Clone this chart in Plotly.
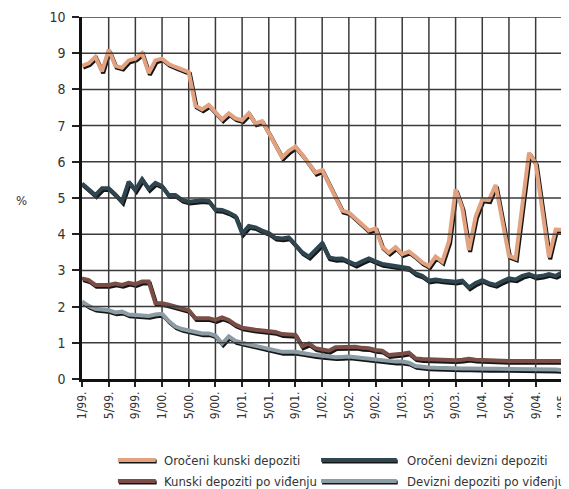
import plotly.graph_objects as go

# monthly data, 1/99 .. 1/05
months = list(range(73))

oroceni_kunski = [
    8.65, 8.72, 8.9, 8.5, 9.1, 8.65, 8.6, 8.8, 8.85, 9.0, 8.45, 8.8,
    8.85, 8.7, 8.62, 8.55, 8.48, 7.55, 7.45, 7.57, 7.35, 7.17, 7.34, 7.2,
    7.15, 7.34, 7.06, 7.12, 6.8, 6.45, 6.12, 6.3, 6.42, 6.2, 5.95, 5.7,
    5.77, 5.4, 5.0, 4.65, 4.6, 4.43, 4.27, 4.1, 4.16, 3.65, 3.49, 3.64,
    3.45, 3.52, 3.38, 3.22, 3.12, 3.38, 3.24, 3.8, 5.24, 4.72, 3.56, 4.48,
    4.96, 4.94, 5.36, 4.4, 3.4, 3.33, 4.8, 6.25, 5.96, 4.66, 3.36, 4.13,
    4.12,
]
oroceni_devizni = [
    5.4, 5.25, 5.08, 5.27, 5.27, 5.1, 4.9, 5.45, 5.22, 5.52, 5.25, 5.42,
    5.33, 5.08, 5.08, 4.95, 4.9, 4.92, 4.94, 4.92, 4.68, 4.67, 4.6, 4.5,
    4.02, 4.23, 4.19, 4.1, 4.03, 3.9, 3.88, 3.91, 3.7, 3.5, 3.38, 3.55,
    3.75, 3.36, 3.32, 3.33, 3.25, 3.16, 3.25, 3.33, 3.25, 3.18, 3.15, 3.12,
    3.1, 3.06, 2.92, 2.85, 2.72, 2.75, 2.72, 2.7, 2.69, 2.72, 2.53, 2.65,
    2.73, 2.65, 2.6, 2.7, 2.78, 2.75, 2.85, 2.9, 2.83, 2.85, 2.9, 2.85,
    2.95,
]
kunski_vidjenje = [
    2.78, 2.73, 2.6, 2.6, 2.6, 2.64, 2.6, 2.66, 2.62, 2.69, 2.69, 2.1,
    2.09, 2.05, 2.0, 1.93, 1.9, 1.68, 1.68, 1.68, 1.63, 1.7, 1.63, 1.5,
    1.42, 1.38, 1.36, 1.34, 1.33, 1.3, 1.24, 1.24, 1.22, 0.9, 0.98, 0.85,
    0.82, 0.78, 0.88, 0.89, 0.89, 0.89, 0.86, 0.85, 0.8, 0.78, 0.66, 0.67,
    0.7, 0.73, 0.57, 0.55, 0.54, 0.54, 0.54, 0.53, 0.52, 0.53, 0.56, 0.53,
    0.52, 0.52, 0.51, 0.5, 0.5, 0.5, 0.5, 0.5, 0.5, 0.5, 0.5, 0.5,
    0.5,
]
devizni_vidjenje = [
    2.14, 2.02, 1.94, 1.92, 1.9, 1.84, 1.86, 1.78, 1.77, 1.76, 1.74, 1.78,
    1.8, 1.6, 1.45, 1.38, 1.33, 1.3, 1.26, 1.26, 1.2, 0.98, 1.18, 1.05,
    1.0, 0.96, 0.92, 0.88, 0.85, 0.8, 0.75, 0.75, 0.75, 0.72, 0.68, 0.66,
    0.64, 0.62, 0.6, 0.61, 0.62, 0.6, 0.58, 0.56, 0.53, 0.5, 0.48, 0.48,
    0.48, 0.45, 0.36, 0.33, 0.32, 0.31, 0.3, 0.29, 0.29, 0.29, 0.29, 0.28,
    0.28, 0.28, 0.28, 0.28, 0.28, 0.27, 0.27, 0.27, 0.27, 0.26, 0.26, 0.26,
    0.25,
]

tick_months = list(range(0, 73, 4))
tick_labels = ["1/99.", "5/99.", "9/99.", "1/00.", "5/00.", "9/00.", "1/01.",
               "5/01.", "9/01.", "1/02.", "5/02.", "9/02.", "1/03.", "5/03.",
               "9/03.", "1/04.", "5/04.", "9/04.", "1/05."]
y_ticks = list(range(0, 11))

names = ["Oročeni kunski depoziti", "Oročeni devizni depoziti",
         "Kunski depoziti po viđenju", "Devizni depoziti po viđenju"]
series = [oroceni_kunski, oroceni_devizni, kunski_vidjenje, devizni_vidjenje]
colors = ["#E2A27F", "#2F4651", "#7A4E46", "#8C9CA4"]

FONT = "Liberation Sans Narrow, DejaVu Sans Condensed, Arial Narrow, sans-serif"
GRID = "#3a3a3a"

xr = [0, 72.7]
yr = [0, 10]
dx = 0.18   # ~1.2 px
dy = 0.05   # ~1.8 px

fig = go.Figure()

# shadows on x/y (range nudged a little)
for ys in series:
    fig.add_trace(go.Scatter(x=months, y=ys, mode="lines",
                             line=dict(color="#151515", width=4),
                             showlegend=False, hoverinfo="skip"))

# the real lines on x2/y2
for ys, c, n in zip(series, colors, names):
    fig.add_trace(go.Scatter(x=months, y=ys, mode="lines", name=n,
                             line=dict(color=c, width=4),
                             xaxis="x2", yaxis="y2", showlegend=False))

# grid: vertical lines between grid layer and traces, horizontal on top
for m in tick_months[1:]:
    fig.add_shape(type="line", xref="x2", yref="y2", x0=m, x1=m,
                  y0=yr[0], y1=yr[1], layer="between",
                  line=dict(color=GRID, width=1.5))
for v in y_ticks[1:]:
    fig.add_shape(type="line", xref="x2", yref="y2", x0=xr[0], x1=xr[1],
                  y0=v, y1=v, layer="above",
                  line=dict(color=GRID, width=1.5))

# page body has an 8px margin, so the figure is made 8px smaller
fig.update_layout(
    width=561, height=481,
    margin=dict(l=74, r=0, t=9, b=110),
    paper_bgcolor="white", plot_bgcolor="rgba(0,0,0,0)",
    showlegend=False,
    font=dict(family=FONT, color="#333333"),
    xaxis=dict(range=[xr[0] - dx, xr[1] - dx], domain=[0, 1], anchor="y",
               visible=False, fixedrange=True),
    yaxis=dict(range=[yr[0] + dy, yr[1] + dy], domain=[0, 1], anchor="x",
               visible=False, fixedrange=True),
    xaxis2=dict(range=xr, domain=[0, 1], anchor="y2",
                tickvals=tick_months, ticktext=tick_labels, tickangle=-90,
                tickfont=dict(size=12, color="#333333", family=FONT),
                ticklabeloverflow="allow",
                ticks="outside", ticklen=5, tickcolor="#222222", tickwidth=1.5,
                showgrid=False, zeroline=False,
                showline=True, linecolor="#111111", linewidth=2.5,
                fixedrange=True),
    yaxis2=dict(range=yr, domain=[0, 1], anchor="x2",
                tickvals=y_ticks,
                tickfont=dict(size=14, color="#333333", family=FONT),
                ticks="outside", ticklen=7, tickcolor="#222222", tickwidth=1.5,
                ticklabelstandoff=4,
                showgrid=False, zeroline=False,
                showline=True, linecolor="#111111", linewidth=2.5,
                fixedrange=True),
)

fig.add_annotation(text="%", xref="paper", yref="paper", x=-0.14, y=0.494,
                   showarrow=False, font=dict(size=13, color="#333333"))

# hand-made legend below the plot
leg_x = [(0.074, 0.152, 0.164), (0.493, 0.649, 0.667)]
leg_y = [-0.2238, -0.2818]
for k, (n, c) in enumerate(zip(names, colors)):
    x0, x1, xt = leg_x[k % 2]
    yy = leg_y[k // 2]
    fig.add_shape(type="line", xref="paper", yref="paper",
                  x0=x0 + 0.002, x1=x1 + 0.002, y0=yy - 0.004, y1=yy - 0.004,
                  line=dict(color="#151515", width=4))
    fig.add_shape(type="line", xref="paper", yref="paper",
                  x0=x0, x1=x1, y0=yy, y1=yy,
                  line=dict(color=c, width=4))
    fig.add_annotation(text=n, xref="paper", yref="paper", x=xt, y=yy,
                       xanchor="left", yanchor="middle", showarrow=False,
                       font=dict(size=13, color="#333333"))

fig.write_html("out.html")
